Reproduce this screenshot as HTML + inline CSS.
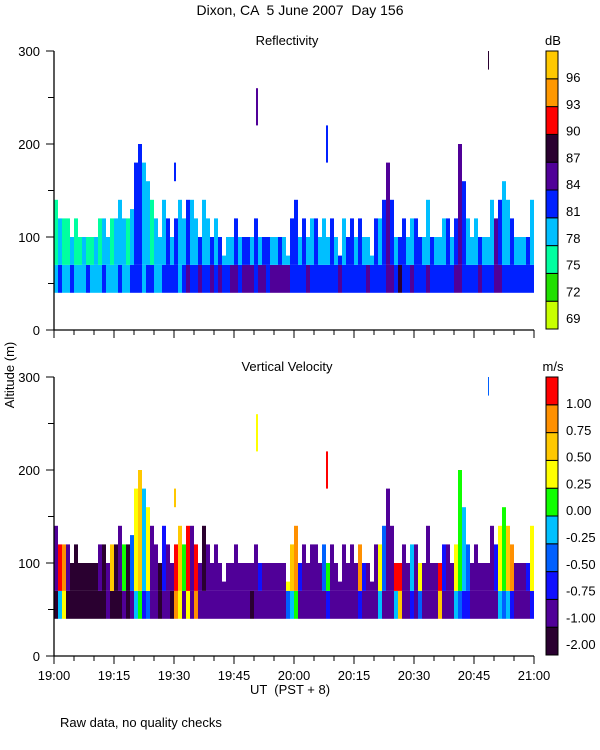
<!DOCTYPE html>
<html><head><meta charset="utf-8"><style>
body{margin:0;background:#fff;}
svg{display:block;font-family:"Liberation Sans",sans-serif;font-size:13px;}
text{white-space:pre;}
</style></head><body>
<svg id="c" width="600" height="750"></svg>
<script>
const minutes=[];for(let i=0;i<120;i++)minutes.push(i);
const tops=[140,120,120,120,100,120,100,100,100,100,100,120,120,100,120,120,140,120,120,130,180,200,180,160,140,120,100,140,120,100,120,140,120,140,140,120,100,140,120,100,120,100,80,100,100,120,100,100,100,100,120,100,100,100,100,100,100,100,80,120,140,100,120,100,120,120,100,120,100,120,100,80,120,100,120,100,120,100,100,80,120,120,140,180,140,100,100,120,100,120,120,100,100,140,100,100,100,120,120,100,120,200,160,120,100,120,100,100,100,140,120,140,160,140,120,100,100,100,100,140];
const refUpper=[2,3,2,2,3,2,2,3,2,2,3,2,3,3,2,3,3,3,2, 3,4,4,3,3,2,3,3,3,4,3,4,3,3,4,3,3,4,3,3,4,3, 4,3,3,3,4,3,4,4,3,4,3,4,4,3,3,4,3,3,4, 4,3,4,3,3,4,3,3,3,4,3,4,3,4,4,3,4,3,3,3,4,3,4,5,4,3, 4,4,3,3,4,4,3,3,4,3,3,3,4,3,4,5,4,3,3,3,4,3,3,3,5,4,3,3,4,3,3,3,4,3];
const refLower=[3,4,3,3,4,3,3,3,4,3,3,3,4,3,3,3,4,3,3, 4,4,4,3,4,4,3,3,4,4,4,4,3,4,5,4,4,5,4,4,5,4, 5,4,4,5,5,4,5,5,5,4,5,5,4,5,5,5,5,5,4, 4,4,4,5,4,4,4,4,4,4,4,5,4,4,4,4,4,4,5,4,4,4,4,5,5,4, 6,4,4,5,4,4,4,5,4,4,4,4,4,4,5,5,4,4,4,4,5,4,4,4,5,5,4,4,4,4,4,4,4,4];
const velUpper=[1,9,8,1,0,0,0,0,0,0,0,1,0,1,7,0,1,5,0, 3,6,7,4,6,1,1,0,2,1,1,9,7,5,9,1,9,1,0,1,1,1, 1,1,1,1,1,1,1,1,1,1,2,1,1,1,1,1,1,6,7, 8,2,1,1,1,1,1,3,5,1,1,1,1,1,1,1,8,2,1,1,1,6,3,1,1,9, 9,1,1,4,1,6,1,1,1,1,9,2,1,1,6,5,4,3,1,1,1,1,1,1,2,6,5,7,8,1,1,1,2,6];
const velLower=[0,4,6,0,0,0,0,0,0,0,0,0,0,1,0,0,0,1,0, 1,4,5,2,3,1,1,0,1,1,0,8,6,1,6,1,8,1,1,1,1,1, 1,1,1,1,1,1,1,1,0,1,1,1,1,1,1,1,1,3,4, 5,1,1,1,1,1,1,1,2,1,1,1,1,1,1,1,2,1,1,1,1,4,1,1,1,4, 7,1,1,2,1,3,1,1,1,1,7,1,1,1,4,3,2,2,1,1,1,1,1,1,1,4,3,4,2,1,1,1,1,2];
// isolated echoes: minute, bottom altitude, top altitude, refl class, vel class
const blobMin=[30,50.5,68,108.5];
const blobLo=[160,220,180,280];
const blobHi=[180,260,220,300];
const blobRef=[4,5,4,6];
const blobVel=[7,6,9,3];
const refLabels=["69","72","75","78","81","84","87","90","93","96"];
const velLabels=["-2.00","-1.00","-0.75","-0.50","-0.25","0.00","0.25","0.50","0.75","1.00"];
const xTickLabels=["19:00","19:15","19:30","19:45","20:00","20:15","20:30","20:45","21:00"];
const yTickLabels=[0,100,200,300];
const refColors=['#c8ff00','#20e000','#00ffa0','#00bfff','#0020ff','#500098','#2a0030','#ff0000','#ff9800','#ffc800'];
const velColors=['#2a0030','#500098','#1010ff','#0060ff','#00c0ff','#10ff00','#ffff00','#ffc800','#ff9000','#ff0000'];

const svg=document.getElementById('c');const NS='http://www.w3.org/2000/svg';
function mk(t,a,txt){const e=document.createElementNS(NS,t);for(const k in a)e.setAttribute(k,a[k]);if(txt!=null)e.textContent=txt;svg.appendChild(e);return e;}
const X=m=>54+m*4;
function panel(y0,colors,U,L,bv,labels,title,unit,name){
  const Y=a=>y0-a*0.93;
  const t=mk('text',{x:287,y:Y(300)-6,'text-anchor':'middle'},title);
  
  for(let i=0;i<minutes.length;i++){
    const m=minutes[i];
    const r1=mk('rect',{x:X(m),y:Y(70),width:4,height:Y(40)-Y(70),fill:colors[L[i]]});
    
    const r2=mk('rect',{x:X(m),y:Y(tops[i]),width:4,height:Y(70)-Y(tops[i]),fill:colors[U[i]]});
    
  }
  for(let i=0;i<blobMin.length;i++){
    const r=mk('rect',{x:X(blobMin[i]),y:Y(blobHi[i]),width:i==3?1:2,height:Y(blobLo[i])-Y(blobHi[i]),fill:colors[bv[i]]});
    
  }
  const ax=mk('path',{d:`M54 ${Y(300)}V${Y(0)}H534`,stroke:'#000',fill:'none','stroke-width':1.3});
  
  for(let a=0;a<=300;a+=50){mk('line',{x1:a%100?48:46,x2:54,y1:Y(a),y2:Y(a),stroke:'#000'});}
  yTickLabels.forEach(v=>{const e=mk('text',{x:40,y:Y(v)+5,'text-anchor':'end'},v);
    });
  for(let m=0;m<=120;m+=5){mk('line',{x1:X(m),x2:X(m),y1:Y(0),y2:Y(0)+(m%15?5:8),stroke:'#000'});}
  const bh=278/10;
  for(let i=0;i<10;i++){const r=mk('rect',{x:546,y:Y(300)+bh*(9-i),width:12,height:bh,fill:colors[i],stroke:'#000','stroke-width':1});
    
    const e=mk('text',{x:566,y:Y(300)+31+26.8*(9-i)},labels[i]);
    }
  const u=mk('text',{x:553,y:Y(300)-6,'text-anchor':'middle'},unit);
  
}
panel(330,refColors,refUpper,refLower,blobRef,refLabels,'Reflectivity','dB','reflectivity');
panel(656,velColors,velUpper,velLower,blobVel,velLabels,'Vertical Velocity','m/s','velocity');
xTickLabels.forEach((l,i)=>{const e=mk('text',{x:X(i*15),y:680,'text-anchor':'middle'},l);
  });
let e;
e=mk('text',{x:300,y:15,'text-anchor':'middle','font-size':'14px'},'Dixon, CA  5 June 2007  Day 156');

e=mk('text',{x:290,y:694,'text-anchor':'middle'},'UT  (PST + 8)');

e=mk('text',{x:14,y:375,'text-anchor':'middle',transform:'rotate(-90 14 375)'},'Altitude (m)');

e=mk('text',{x:60,y:727},'Raw data, no quality checks');

</script>
</body></html>
